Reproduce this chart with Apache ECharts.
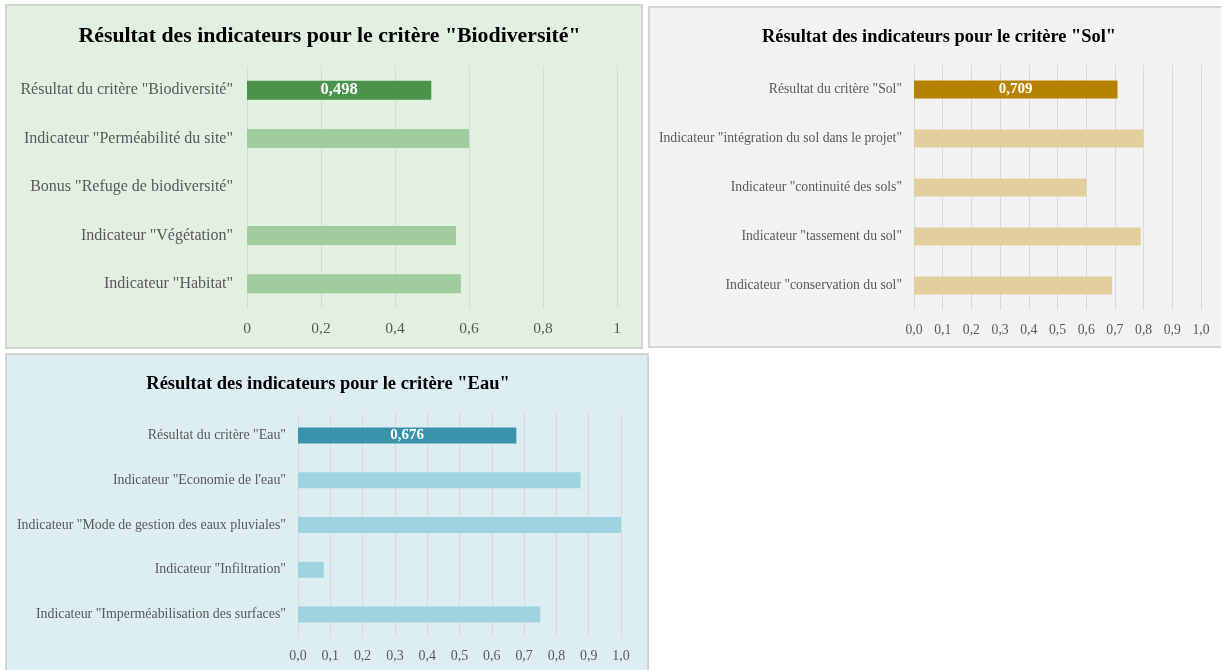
<!DOCTYPE html>
<html><head><meta charset="utf-8">
<script src="https://cdn.jsdelivr.net/npm/echarts@6/dist/echarts.min.js"></script>
<style>html,body{margin:0;padding:0;background:#fff}#c{width:1221px;height:670px}</style>
</head><body><div id="c"></div>
<script>
const bioTitle = 'Résultat des indicateurs pour le critère "Biodiversité"';
const bioCategories = ['Résultat du critère "Biodiversité"', 'Indicateur "Perméabilité du site"', 'Bonus "Refuge de biodiversité"', 'Indicateur "Végétation"', 'Indicateur "Habitat"'];
const bioValues = [0.498, 0.6, 0, 0.565, 0.578];

const solTitle = 'Résultat des indicateurs pour le critère "Sol"';
const solCategories = ['Résultat du critère "Sol"', 'Indicateur "intégration du sol dans le projet"', 'Indicateur "continuité des sols"', 'Indicateur "tassement du sol"', 'Indicateur "conservation du sol"'];
const solValues = [0.709, 0.8, 0.6, 0.79, 0.69];

const eauTitle = 'Résultat des indicateurs pour le critère "Eau"';
const eauCategories = ['Résultat du critère "Eau"', 'Indicateur "Economie de l\'eau"', 'Indicateur "Mode de gestion des eaux pluviales"', 'Indicateur "Infiltration"', 'Indicateur "Imperméabilisation des surfaces"'];
const eauValues = [0.676, 0.875, 1.0, 0.08, 0.75];

const FONT = '"Liberation Serif", "Times New Roman", serif';

const panels = [
  {title: bioTitle, cats: bioCategories, vals: bioValues, dark: '#4a934a', light: '#a0cca0', bg: '#e2f0e1',
   rect: [6, 5, 636, 343], titleX: 324.5, titleY: 20, titleSize: 21.8,
   grid: {left: 247, top: 66, width: 370, height: 242}, interval: 0.2, catSize: 16, axSize: 15.5, barW: 19, lblSize: 16.5, catMargin: 14, axMargin: 13},
  {title: solTitle, cats: solCategories, vals: solValues, dark: '#b58300', light: '#e3cf9e', bg: '#f2f2f2',
   rect: [649, 7, 580, 340], titleX: 934, titleY: 23, titleSize: 18.4,
   grid: {left: 914, top: 65, width: 287, height: 245}, interval: 0.1, catSize: 13.7, axSize: 13.7, barW: 18, lblSize: 15, catMargin: 12, axMargin: 13},
  {title: eauTitle, cats: eauCategories, vals: eauValues, dark: '#3993ab', light: '#a0d3e0', bg: '#ddeef3',
   rect: [6, 354, 642, 330], titleX: 327, titleY: 370, titleSize: 18.5,
   grid: {left: 298, top: 413, width: 323, height: 224}, interval: 0.1, catSize: 13.9, axSize: 13.9, barW: 16, lblSize: 15, catMargin: 12, axMargin: 12}
];
panels[2].titleX = 323;

const option = {
  animation: false,
  title: [], grid: [], xAxis: [], yAxis: [], series: [],
  graphic: []
};

panels.forEach((p, i) => {
  option.graphic.push({type: 'rect', z: -10, silent: true,
    shape: {x: p.rect[0], y: p.rect[1], width: p.rect[2], height: p.rect[3]},
    style: {fill: p.bg, stroke: '#d3d3d3', lineWidth: 2}});
  option.title.push({text: p.title, left: p.titleX, top: p.titleY, textAlign: 'center',
    textStyle: {fontFamily: FONT, fontWeight: 'bold', fontSize: p.titleSize, color: '#000'}});
  option.grid.push(Object.assign({containLabel: false}, p.grid));
  const isBio = i === 0;
  option.xAxis.push({type: 'value', gridIndex: i, min: 0, max: 1, interval: p.interval,
    axisLine: {show: false}, axisTick: {show: false},
    splitLine: {lineStyle: {color: '#d9d9d9', width: 1}},
    axisLabel: {fontFamily: FONT, fontSize: p.axSize, color: '#595959', margin: p.axMargin,
      formatter: v => isBio ? String(+v.toFixed(1)).replace('.', ',') : v.toFixed(1).replace('.', ',')}});
  option.yAxis.push({type: 'category', gridIndex: i, data: p.cats, inverse: true,
    axisLine: {show: false}, axisTick: {show: false},
    axisLabel: {fontFamily: FONT, fontSize: p.catSize, color: '#595959', margin: p.catMargin}});
  option.series.push({type: 'bar', xAxisIndex: i, yAxisIndex: i, barWidth: p.barW,
    data: p.vals.map((v, k) => k === 0 ? {
      value: v, itemStyle: {color: p.dark},
      label: {show: true, position: 'inside', color: '#fff', fontFamily: FONT, fontWeight: 'bold', fontSize: p.lblSize,
        formatter: d => d.value.toFixed(3).replace('.', ',')}
    } : {value: v, itemStyle: {color: p.light}})
  });
});

const chart = echarts.init(document.getElementById('c'), null, {renderer: 'canvas'});
chart.setOption(option);
</script></body></html>
